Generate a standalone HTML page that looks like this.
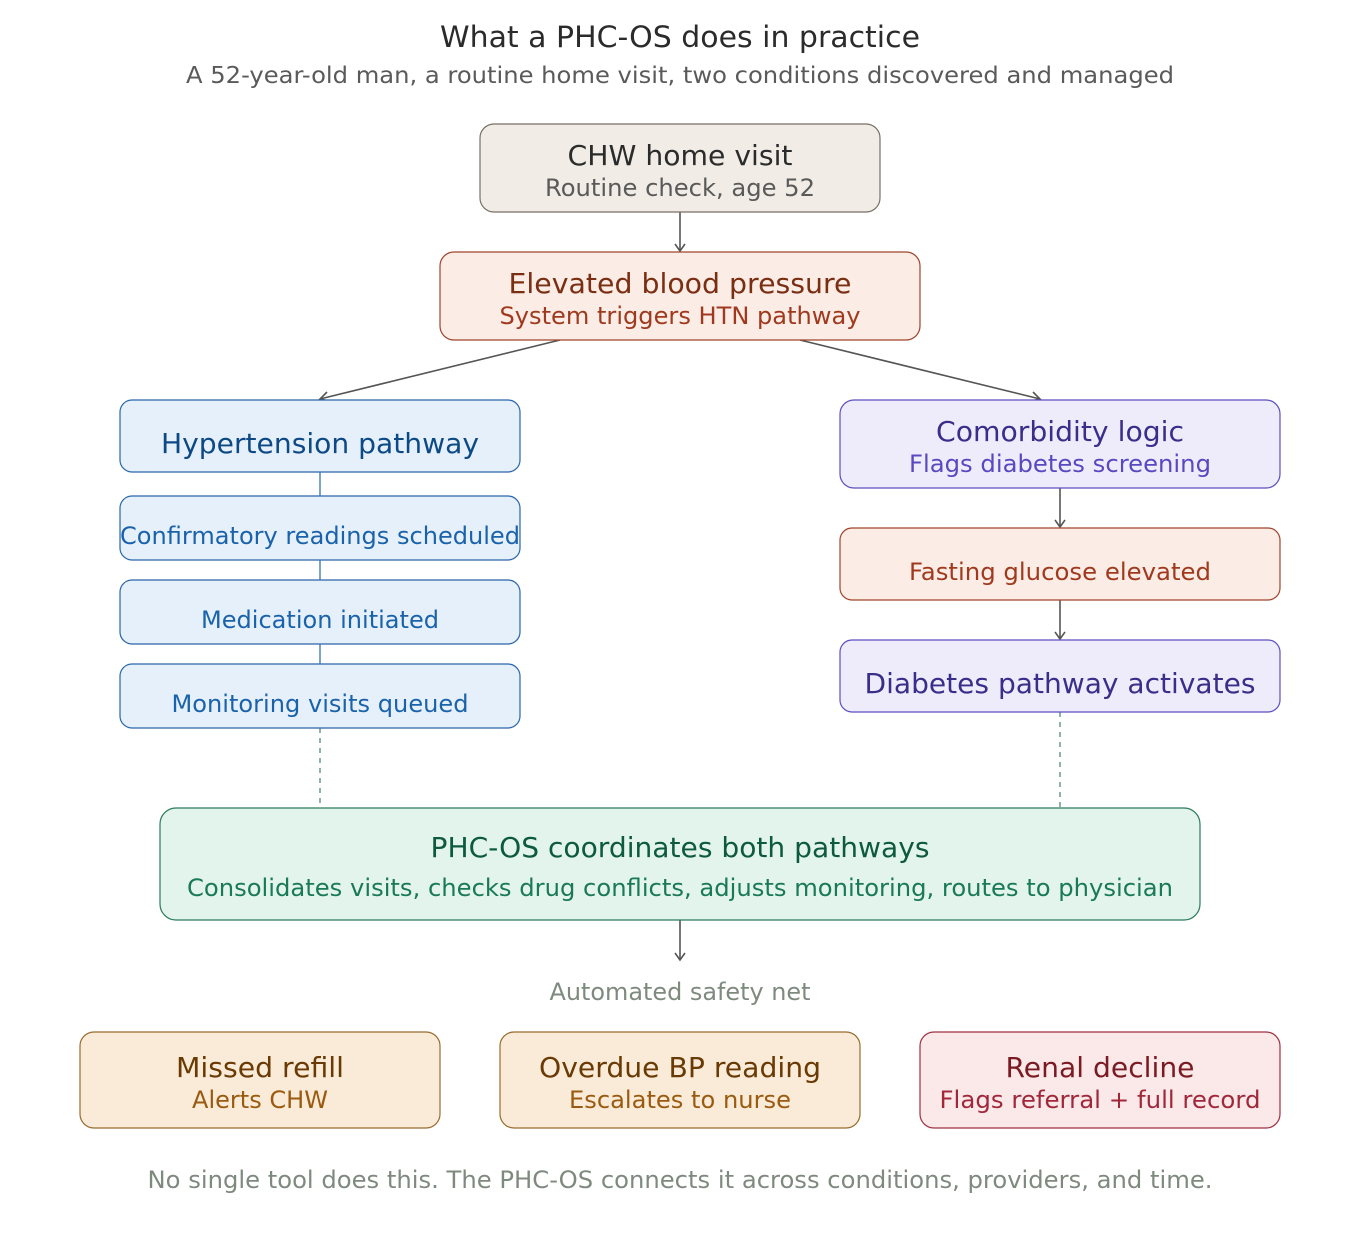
<!DOCTYPE html>
<html><head><meta charset="utf-8"><style>
html,body{margin:0;padding:0;background:#fff;}
svg{display:block;font-family:"DejaVu Sans","Liberation Sans",sans-serif;}
</style></head><body>
<svg width="1360" height="1240" viewBox="0 0 1360 1240" xmlns="http://www.w3.org/2000/svg">
<rect width="1360" height="1240" fill="#fff"/>
<text x="680" y="47" text-anchor="middle" font-size="29" fill="#2b2b2b" textLength="480" lengthAdjust="spacingAndGlyphs">What a PHC-OS does in practice</text>
<text x="680" y="83" text-anchor="middle" font-size="23" fill="#5a5a5a" textLength="988" lengthAdjust="spacingAndGlyphs">A 52-year-old man, a routine home visit, two conditions discovered and managed</text>

<g fill="none" stroke="#555" stroke-width="1.6">
<line x1="680" y1="212" x2="680" y2="251"/><polyline points="675,244 680,251 685,244"/>
<line x1="560" y1="340" x2="320" y2="399"/><polyline points="327,392 320,399 329,401"/>
<line x1="800" y1="340" x2="1040" y2="399"/><polyline points="1031,401 1040,399 1033,392"/>
<line x1="1060" y1="488" x2="1060" y2="527"/><polyline points="1055,520 1060,527 1065,520"/>
<line x1="1060" y1="600" x2="1060" y2="639"/><polyline points="1055,632 1060,639 1065,632"/>
<line x1="680" y1="920" x2="680" y2="960"/><polyline points="675,953 680,960 685,953"/>
</g>
<g stroke="#2a65a8" stroke-width="1.2"><line x1="320" y1="472" x2="320" y2="496"/><line x1="320" y1="560" x2="320" y2="580"/><line x1="320" y1="644" x2="320" y2="664"/></g>
<g stroke="#6a9a90" stroke-width="1.5" stroke-dasharray="5,5"><line x1="320" y1="728" x2="320" y2="808"/><line x1="1060" y1="712" x2="1060" y2="808"/></g>

<rect x="480" y="124" width="400" height="88" rx="14" fill="#f1ede6" stroke="#7a6f66" stroke-width="1.2"/>
<text x="680" y="165" text-anchor="middle" font-size="28" fill="#2b2b2b" textLength="225" lengthAdjust="spacingAndGlyphs">CHW home visit</text>
<text x="680" y="196" text-anchor="middle" font-size="24" fill="#5a5a5a" textLength="270" lengthAdjust="spacingAndGlyphs">Routine check, age 52</text>

<rect x="440" y="252" width="480" height="88" rx="14" fill="#fbece6" stroke="#a0432a" stroke-width="1.2"/>
<text x="680" y="293" text-anchor="middle" font-size="28" fill="#7a2e12" textLength="343" lengthAdjust="spacingAndGlyphs">Elevated blood pressure</text>
<text x="680" y="324" text-anchor="middle" font-size="24" fill="#a03a1e" textLength="361" lengthAdjust="spacingAndGlyphs">System triggers HTN pathway</text>

<rect x="120" y="400" width="400" height="72" rx="12" fill="#e6f0fb" stroke="#2a65a8" stroke-width="1.2"/>
<text x="320" y="453" text-anchor="middle" font-size="28" fill="#0d4a85" textLength="318" lengthAdjust="spacingAndGlyphs">Hypertension pathway</text>
<rect x="120" y="496" width="400" height="64" rx="12" fill="#e6f0fb" stroke="#2a65a8" stroke-width="1.2"/>
<text x="320" y="544" text-anchor="middle" font-size="24" fill="#1a63ab" textLength="400" lengthAdjust="spacingAndGlyphs">Confirmatory readings scheduled</text>
<rect x="120" y="580" width="400" height="64" rx="12" fill="#e6f0fb" stroke="#2a65a8" stroke-width="1.2"/>
<text x="320" y="628" text-anchor="middle" font-size="24" fill="#1a63ab" textLength="238" lengthAdjust="spacingAndGlyphs">Medication initiated</text>
<rect x="120" y="664" width="400" height="64" rx="12" fill="#e6f0fb" stroke="#2a65a8" stroke-width="1.2"/>
<text x="320" y="712" text-anchor="middle" font-size="24" fill="#1a63ab" textLength="297" lengthAdjust="spacingAndGlyphs">Monitoring visits queued</text>

<rect x="840" y="400" width="440" height="88" rx="14" fill="#eeecfb" stroke="#5b4fc0" stroke-width="1.2"/>
<text x="1060" y="441" text-anchor="middle" font-size="28" fill="#3a2e8a" textLength="248" lengthAdjust="spacingAndGlyphs">Comorbidity logic</text>
<text x="1060" y="472" text-anchor="middle" font-size="24" fill="#5a48c0" textLength="302" lengthAdjust="spacingAndGlyphs">Flags diabetes screening</text>
<rect x="840" y="528" width="440" height="72" rx="12" fill="#fbece6" stroke="#a0432a" stroke-width="1.2"/>
<text x="1060" y="580" text-anchor="middle" font-size="24" fill="#a03a1e" textLength="302" lengthAdjust="spacingAndGlyphs">Fasting glucose elevated</text>
<rect x="840" y="640" width="440" height="72" rx="12" fill="#eeecfb" stroke="#5b4fc0" stroke-width="1.2"/>
<text x="1060" y="693" text-anchor="middle" font-size="28" fill="#3a2e8a" textLength="391" lengthAdjust="spacingAndGlyphs">Diabetes pathway activates</text>

<rect x="160" y="808" width="1040" height="112" rx="16" fill="#e2f4ec" stroke="#2a7a5a" stroke-width="1.2"/>
<text x="680" y="857" text-anchor="middle" font-size="28" fill="#0d5a40" textLength="499" lengthAdjust="spacingAndGlyphs">PHC-OS coordinates both pathways</text>
<text x="680" y="896" text-anchor="middle" font-size="24" fill="#1a7a56" textLength="986" lengthAdjust="spacingAndGlyphs">Consolidates visits, checks drug conflicts, adjusts monitoring, routes to physician</text>

<text x="680" y="1000" text-anchor="middle" font-size="24" fill="#7f8a7f" textLength="261" lengthAdjust="spacingAndGlyphs">Automated safety net</text>

<rect x="80" y="1032" width="360" height="96" rx="14" fill="#faebd8" stroke="#9a6a30" stroke-width="1.2"/>
<text x="260" y="1077" text-anchor="middle" font-size="28" fill="#6a3a05" textLength="168" lengthAdjust="spacingAndGlyphs">Missed refill</text>
<text x="260" y="1108" text-anchor="middle" font-size="24" fill="#9a5a10" textLength="136" lengthAdjust="spacingAndGlyphs">Alerts CHW</text>
<rect x="500" y="1032" width="360" height="96" rx="14" fill="#faebd8" stroke="#9a6a30" stroke-width="1.2"/>
<text x="680" y="1077" text-anchor="middle" font-size="28" fill="#6a3a05" textLength="282" lengthAdjust="spacingAndGlyphs">Overdue BP reading</text>
<text x="680" y="1108" text-anchor="middle" font-size="24" fill="#9a5a10" textLength="222" lengthAdjust="spacingAndGlyphs">Escalates to nurse</text>
<rect x="920" y="1032" width="360" height="96" rx="14" fill="#fbe9e9" stroke="#a03040" stroke-width="1.2"/>
<text x="1100" y="1077" text-anchor="middle" font-size="28" fill="#7a1a22" textLength="189" lengthAdjust="spacingAndGlyphs">Renal decline</text>
<text x="1100" y="1108" text-anchor="middle" font-size="24" fill="#a0283a" textLength="321" lengthAdjust="spacingAndGlyphs">Flags referral + full record</text>

<text x="680" y="1188" text-anchor="middle" font-size="24" fill="#7f8a7f" textLength="1065" lengthAdjust="spacingAndGlyphs">No single tool does this. The PHC-OS connects it across conditions, providers, and time.</text>
</svg>
</body></html>
